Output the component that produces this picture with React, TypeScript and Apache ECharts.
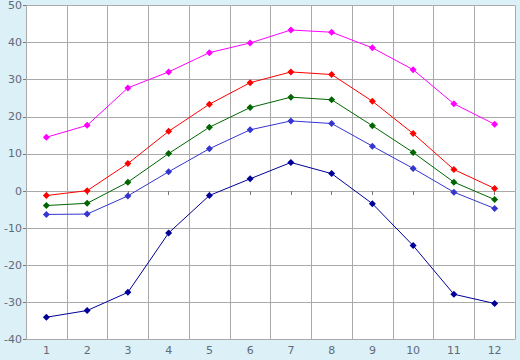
import React, { useEffect, useRef } from "react";
import * as echarts from "echarts";

const months = ["1", "2", "3", "4", "5", "6", "7", "8", "9", "10", "11", "12"];
const magentaValues = [14.5, 17.7, 27.8, 32.1, 37.3, 39.9, 43.4, 42.8, 38.6, 32.7, 23.5, 18.0];
const redValues = [-1.2, 0.1, 7.4, 16.1, 23.4, 29.2, 32.1, 31.4, 24.2, 15.5, 5.8, 0.7];
const greenValues = [-3.9, -3.3, 2.4, 10.1, 17.2, 22.5, 25.3, 24.6, 17.6, 10.4, 2.4, -2.3];
const blueValues = [-6.3, -6.2, -1.3, 5.2, 11.4, 16.5, 18.9, 18.2, 12.1, 6.1, -0.3, -4.7];
const navyValues = [-34.0, -32.2, -27.3, -11.3, -1.2, 3.3, 7.7, 4.7, -3.4, -14.7, -27.8, -30.3];

const seriesDefs = [
  { name: "magenta", color: "#ff00ff", data: magentaValues },
  { name: "red", color: "#ff0000", data: redValues },
  { name: "green", color: "#006600", data: greenValues },
  { name: "blue", color: "#3535d0", data: blueValues },
  { name: "navy", color: "#000099", data: navyValues },
];

export default function App() {
  const ref = useRef<HTMLDivElement>(null);
  useEffect(() => {
    if (!ref.current) return;
    const chart = echarts.init(ref.current, undefined, { renderer: "svg" });
    chart.setOption({
      animation: false,
      backgroundColor: "#dcf0f7",
      grid: {
        left: 26,
        right: 5,
        top: 5,
        bottom: 20.5,
        show: true,
        backgroundColor: "#ffffff",
        borderWidth: 0,
      },
      xAxis: {
        type: "category",
        data: months,
        boundaryGap: true,
        axisLine: { show: true, lineStyle: { color: "#aaaaaa", width: 1 } },
        axisTick: { show: true, alignWithLabel: true, length: 4, lineStyle: { color: "#777777" } },
        axisLabel: { color: "#5f6b78", fontFamily: "DejaVu Sans", fontSize: 11, margin: 5 },
        splitLine: { show: true, lineStyle: { color: "#aaaaaa", width: 1 } },
      },
      yAxis: {
        type: "value",
        min: -40,
        max: 50,
        interval: 10,
        axisLine: { show: true, lineStyle: { color: "#aaaaaa", width: 1 } },
        axisTick: { show: true, length: 3, lineStyle: { color: "#777777" } },
        axisLabel: { color: "#5f6b78", fontFamily: "DejaVu Sans", fontSize: 11, margin: 4 },
        splitLine: { show: true, lineStyle: { color: "#aaaaaa", width: 1 } },
      },
      series: seriesDefs.map((s) => ({
        name: s.name,
        type: "line",
        data: s.data,
        symbol: "diamond",
        symbolSize: 7,
        showAllSymbol: true,
        itemStyle: { color: s.color },
        lineStyle: { color: s.color, width: 1 },
      })),
    });
    return () => chart.dispose();
  }, []);
  return (
    <div
      ref={ref}
      style={{ position: "fixed", left: 0, top: 0, width: 520, height: 360 }}
    />
  );
}
